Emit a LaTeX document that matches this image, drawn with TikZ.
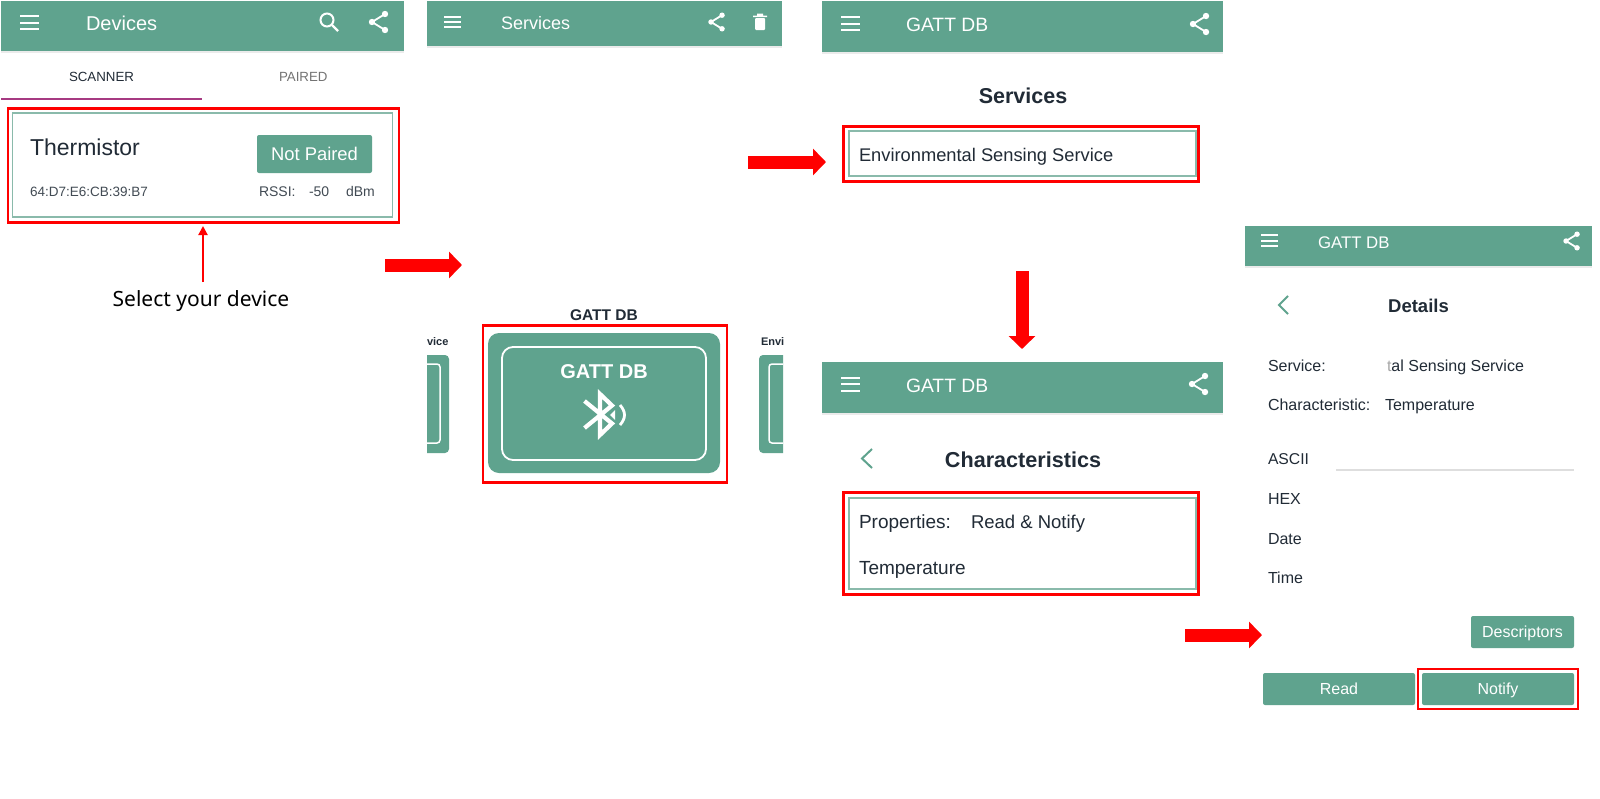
\documentclass[tikz,border=0pt]{standalone}
\usepackage{fontspec}
\setmainfont{Liberation Sans}
\newfontfamily\selfont{Noto Sans}
\usetikzlibrary{arrows.meta}
\definecolor{appgreen}{HTML}{5FA38E}
\definecolor{inkdark}{HTML}{212B36}
\definecolor{framegreen}{HTML}{8ABAAB}
\definecolor{tabpurple}{HTML}{A63A82}
\newcommand{\fs}[1]{\fontsize{#1}{#1}\selectfont}
\tikzset{
  every node/.style={inner sep=0pt,outer sep=0pt},
  bar/.style={fill=appgreen,draw=none,minimum width=#1,anchor=north west},
  barshadow/.style={draw=black!8,line width=1.5pt},
  ttl/.style={anchor=base west,text=white,font=\fs{#1}},
  lbl/.style={anchor=base west,text=inkdark,font=\fs{#1}},
  head/.style={anchor=base,text=inkdark,font=\fs{#1}\bfseries},
  redbox/.style={draw=red,line width=2.6pt,fill=none},
  tealbox/.style={draw=framegreen,line width=1.5pt,fill=none},
  btn/.style={fill=appgreen,rounded corners=2pt,text=white,text depth=0pt,font=\fs{#1}},
  blockarrow/.style={draw=red,line width=13pt,-{Triangle[length=13pt,width=26pt]},shorten >=0pt},
  icoline/.style={draw=white,line width=2pt},
  chev/.style={draw=appgreen,line width=2pt},
  hamb/.pic={\draw[icoline] (0,-6.5)--(#1,-6.5) (0,0)--(#1,0) (0,6.5)--(#1,6.5);},
  shareicon/.pic={
    \draw[draw=white,line width=1.8pt] (13,-8)--(0,0)--(13,8);
    \fill[white] (0,0) circle (3.2) (13,-8) circle (3.2) (13,8) circle (3.2);
  }
}
\begin{document}
\begin{tikzpicture}[x=1pt,y=-1pt]
\useasboundingbox (0,0) rectangle (1600,798);
\fill[white] (0,0) rectangle (1600,798);

% ---- Panel 1
\draw[barshadow] (1,52)--(404,52);
\node[bar=403pt,minimum height=50pt] (bar1) at (1,1) {};
\pic at (20,22.5) {hamb=19};
\node[ttl=20] (t1) at (86,30) {Devices};
\draw[draw=white,line width=2pt] (327,20) circle (6.5);
\draw[draw=white,line width=2.4pt] (332,25)--(338,31);
\pic at (372,22) {shareicon};
\node[anchor=base west,text=inkdark,font=\fs{13.3}] (tabA) at (69,81.5) {SCANNER};
\node[anchor=base west,text=black!55,font=\fs{13.3}] (tabB) at (279,81.5) {PAIRED};
\draw[draw=tabpurple,line width=2pt] (1,99)--(202,99);
\node[redbox,minimum width=391pt,minimum height=114pt] (devbox) at (203.5,165.5) {};
\node[tealbox,minimum width=380pt,minimum height=104pt] (devin) at (202.5,165) {};
\node[lbl=23] (therm) at (30,155) {Thermistor};
\node[btn=18.4,minimum width=115pt,minimum height=38pt] (np) at (314.5,154) {Not Paired};
\node[lbl=13.5,text=inkdark!85] (mac) at (30,196) {64:D7:E6:CB:39:B7};
\node[lbl=14,text=inkdark!85] (rssi) at (259,196) {RSSI:};
\node[lbl=14,text=inkdark!85] (rssiv) at (309,196) {-50};
\node[lbl=14,text=inkdark!85] (rssiu) at (346,196) {dBm};
\node[anchor=base,text=black,font=\selfont\fs{21}] (sel) at (201,306) {Select your device};
\coordinate (selTop) at (203,282);
\coordinate (selTip) at (203,226);
\draw[draw=red,line width=2pt,-{Triangle[length=9pt,width=9pt]}] (selTop)--(selTip);

\coordinate (a1s) at (385,265); \coordinate (a1e) at (462,265);
\draw[blockarrow] (a1s)--(a1e);

% ---- Panel 2
\draw[barshadow] (427,47)--(782,47);
\node[bar=355pt,minimum height=45pt] (bar2) at (427,1) {};
\pic[yscale=.82] at (444,22) {hamb=17};
\node[ttl=18] (t2) at (501,29) {Services};
\pic[scale=.85] at (711,22) {shareicon};
\fill[white,rounded corners=1pt] (755,18) rectangle (765,30);
\fill[white] (753,15.5) rectangle (767,17) (757,13.5) rectangle (763,16);

\node[head=15.5] (h2) at (604,320) {GATT DB};
\node[anchor=base west,text=inkdark,font=\fs{11}\bfseries] (vice) at (427,345) {vice};
\node[anchor=base west,text=inkdark,font=\fs{11}\bfseries] (envi) at (761,345) {Envi};
\fill[appgreen] (427,355) [rounded corners=4pt] -- (449,355) -- (449,453) [sharp corners] -- (427,453) -- cycle;
\draw[draw=white,line width=1.5pt] (427,364) [rounded corners=3pt] -- (440,364) -- (440,443) [sharp corners] -- (427,443);
\fill[appgreen] (783,355) [rounded corners=4pt] -- (759,355) -- (759,453) [sharp corners] -- (783,453) -- cycle;
\draw[draw=white,line width=1.5pt] (783,364) [rounded corners=3pt] -- (769,364) -- (769,443) [sharp corners] -- (783,443);
\node[redbox,minimum width=244pt,minimum height=157pt] (gbox) at (605,404) {};
\node[fill=appgreen,rounded corners=11pt,minimum width=232pt,minimum height=140pt] (gcard) at (604,403) {};
\node[draw=white,line width=1.8pt,rounded corners=11pt,minimum width=204pt,minimum height=113pt] (gin) at (604,403.5) {};
\node[anchor=base,text=white,font=\fs{20}\bfseries] (gt) at (604,378) {GATT DB};
\draw[draw=white,line width=4.2pt,line join=miter] (584.5,401)--(612,423.5)--(600,435)--(600,394)--(612,405.5)--(584.5,428);
\fill[white] (610,415)--(615,410)--(615,420)--cycle;
\draw[draw=white,line width=2.8pt] (620,405) .. controls (626,412) and (626,418) .. (620,425);

\coordinate (a2s) at (748,162); \coordinate (a2e) at (826,162);
\draw[blockarrow] (a2s)--(a2e);

% ---- Panel 3
\draw[barshadow] (822,53)--(1223,53);
\node[bar=401pt,minimum height=51pt] (bar3) at (822,1) {};
\pic at (841,23.5) {hamb=19};
\node[ttl=19.3] (t3) at (906,31) {GATT DB};
\pic at (1193,24) {shareicon};
\node[head=21.5] (h3) at (1023,103) {Services};
\node[redbox,minimum width=355pt,minimum height=55pt] (sbox) at (1021,154) {};
\node[tealbox,minimum width=347pt,minimum height=45pt] (sin) at (1022.5,153.5) {};
\node[lbl=18.3] (env) at (859,161) {Environmental Sensing Service};

\coordinate (a3s) at (1022,271); \coordinate (a3e) at (1022,349);
\draw[blockarrow] (a3s)--(a3e);

% ---- Panel 4
\draw[barshadow] (822,414)--(1223,414);
\node[bar=401pt,minimum height=51pt] (bar4) at (822,362) {};
\pic at (841,384) {hamb=19};
\node[ttl=19.3] (t4) at (906,392) {GATT DB};
\pic at (1192,384) {shareicon};
\draw[chev] (872,449)--(862,458.5)--(872,468);
\node[head=21.6] (h4) at (1023,467) {Characteristics};
\node[redbox,minimum width=355pt,minimum height=102pt] (cbox) at (1021,543.5) {};
\node[tealbox,minimum width=347pt,minimum height=91pt] (cin) at (1022.5,543.5) {};
\node[lbl=19] (prop) at (859,528) {Properties:};
\node[lbl=18.5] (rn) at (971,528) {Read \& Notify};
\node[lbl=19] (temp) at (859,574) {Temperature};

\coordinate (a4s) at (1185,635); \coordinate (a4e) at (1262,635);
\draw[blockarrow] (a4s)--(a4e);

% ---- Panel 5
\draw[barshadow] (1245,267)--(1592,267);
\node[bar=347pt,minimum height=40pt] (bar5) at (1245,226) {};
\pic[yscale=.85] at (1261,240.5) {hamb=17};
\node[ttl=16.8] (t5) at (1318,248) {GATT DB};
\pic[scale=.85] at (1566,241) {shareicon};
\draw[chev] (1288,296)--(1279,305)--(1288,314);
\node[head=18.5] (h5) at (1418.5,312) {Details};
\node[lbl=16] (svc) at (1268,371) {Service:};
\node[lbl=16] (svcv) at (1387,371) {{\color{black!35}t}al Sensing Service};
\node[lbl=16] (chr) at (1268,410) {Characteristic:};
\node[lbl=16] (chrv) at (1385,410) {Temperature};
\node[lbl=15.7] (asc) at (1268,464) {ASCII};
\draw[draw=black!13,line width=2pt] (1336,470)--(1574,470);
\node[lbl=16] (hex) at (1268,504) {HEX};
\node[lbl=16] (dat) at (1268,544) {Date};
\node[lbl=16] (tim) at (1268,583) {Time};
\node[btn=16,minimum width=103pt,minimum height=32pt] (bdesc) at (1522.5,632) {Descriptors};
\node[btn=16,minimum width=152pt,minimum height=32pt] (bread) at (1339,689) {Read};
\node[btn=16,minimum width=152pt,minimum height=32pt] (bnot) at (1498,689) {Notify};
\node[redbox,minimum width=160pt,minimum height=40pt] (nbox) at (1498,689) {};
\end{tikzpicture}
\end{document}
